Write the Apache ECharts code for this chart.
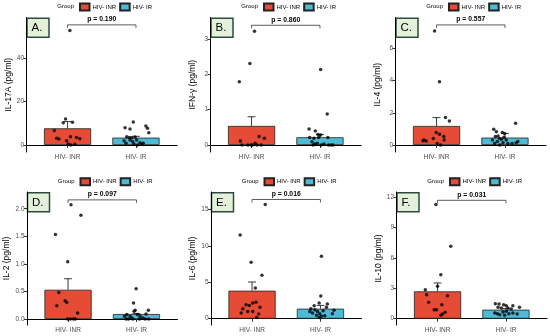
<!DOCTYPE html>
<html>
<head>
<meta charset="utf-8">
<script src="https://cdn.jsdelivr.net/npm/echarts@6/dist/echarts.min.js"></script>
<style>html,body{margin:0;padding:0;background:#fff}#c{width:550px;height:336px}</style>
</head>
<body>
<div id="c"></div>
<script>
// ---------- data ----------
const groups = ['HIV- INR', 'HIV- IR'];
const yTitles = ['IL-17A (pg/ml)', 'IFN-γ (pg/ml)', 'IL-4 (pg/ml)', 'IL-2 (pg/ml)', 'IL-6 (pg/ml)', 'IL-10 (pg/ml)'];
const panelLabels = ['A.', 'B.', 'C.', 'D.', 'E.', 'F.'];
const pLabels = ['p = 0.190', 'p = 0.860', 'p = 0.557', 'p = 0.097', 'p = 0.016', 'p = 0.031'];
const meanINR = [7.7, 0.54, 1.18, 0.53, 3.85, 2.70];
const meanIR = [3.4, 0.22, 0.46, 0.09, 1.38, 0.89];
const upperINR = [10.8, 0.80, 1.70, 0.73, 5.05, 3.53];
const upperIR = [4.0, 0.30, 0.72, 0.10, 1.83, 1.00];
const yTicks = [[0, 20, 40], [0, 1, 2, 3], [0, 2, 4, 6], [0, 0.5, 1, 1.5, 2], [0, 5, 10, 15], [0, 3, 6, 9, 12]];
const yMin = [-3.23, -0.198, -0.434, -0.109, -0.867, -0.623];
const yMax = [58.8, 3.61, 7.91, 2.303, 17.43, 12.52];
const bracketY = [55.4, 3.39, 7.45, 2.16, 16.4, 11.7];

// jittered points: [horizontal jitter offset (category units), value]
const ptsA_INR = [[0.034, 52.8], [-0.029, 12.0], [-0.063, 10.3], [0.072, 10.5], [-0.193, 6.7], [-0.159, 3.1], [-0.126, 2.8], [0.043, 3.8], [0.130, 3.4], [0.179, 2.9], [-0.014, 2.0], [0.010, 0.5], [0.048, 0.0], [0.106, 0.3]];
const ptsA_IR = [[-0.039, 10.6], [-0.159, 8.0], [-0.087, 7.4], [0.145, 8.8], [0.169, 7.7], [0.188, 5.7], [-0.135, 3.8], [-0.097, 3.5], [-0.063, 3.3], [-0.174, 2.0], [-0.145, 0.8], [-0.087, 2.3], [-0.048, 1.5], [-0.029, 0.5], [-0.014, 3.7], [0.010, 2.3], [0.024, 0.0], [0.058, 1.0], [0.082, 0.5], [0.106, 0.8]];
const ptsB_INR = [[0.043, 3.22], [-0.024, 2.31], [-0.179, 1.79], [-0.164, 0.11], [0.111, 0.24], [0.188, 0.19], [-0.140, 0], [-0.053, 0], [-0.005, 0], [0.053, 0.05], [0.082, 0], [0.140, 0], [0.014, 0]];
const ptsB_IR = [[0.010, 2.14], [0.106, 0.88], [-0.159, 0.45], [-0.068, 0.40], [-0.029, 0.30], [0.010, 0.28], [-0.150, 0.21], [-0.087, 0.19], [-0.019, 0.21], [0.116, 0.21], [-0.116, 0.09], [-0.077, 0.03], [-0.039, 0.05], [0.019, 0], [0.058, 0.03], [0.164, 0], [0.193, 0], [-0.101, 0], [0.126, 0]];
const ptsC_INR = [[-0.029, 7.08], [0.043, 3.93], [0.130, 1.70], [0.188, 1.49], [-0.184, 0.31], [-0.150, 0.25], [-0.048, 0.41], [-0.005, 0.77], [0.043, 0.66], [0.106, 0.52], [0.111, 0.31], [0.010, 0.10], [0.058, 0], [-0.198, 0.27]];
const ptsC_IR = [[0.155, 1.35], [-0.164, 0.97], [-0.126, 0.83], [-0.039, 0.77], [-0.005, 0.72], [-0.140, 0.52], [-0.101, 0.56], [-0.077, 0.41], [-0.053, 0.35], [-0.014, 0.48], [0.019, 0.31], [-0.184, 0.31], [-0.111, 0.21], [-0.077, 0], [0.043, 0.10], [0.106, 0.10], [0.164, 0.14], [0.188, 0.21], [-0.029, 0.14], [-0.150, 0.10]];
const ptsD_INR = [[0.043, 2.07], [0.188, 1.88], [-0.184, 1.53], [-0.005, 1.04], [-0.135, 0.48], [-0.164, 0.24], [-0.043, 0.33], [-0.019, 0.30], [0.140, 0.11], [-0.005, 0], [0.034, 0], [0.077, 0], [0.106, 0]];
const ptsD_IR = [[-0.005, 0.55], [-0.043, 0.29], [-0.034, 0.14], [-0.019, 0.16], [0.174, 0.16], [0.140, 0.09], [-0.140, 0.08], [-0.174, 0.05], [-0.092, 0.05], [-0.068, 0.02], [0.014, 0.08], [0.053, 0.05], [0.092, 0.02], [-0.116, 0], [-0.053, 0], [0.043, 0], [0.126, 0], [0.179, 0], [-0.150, 0]];
const ptsE_INR = [[0.193, 15.7], [-0.174, 11.5], [-0.014, 7.75], [0.145, 5.96], [0.048, 4.22], [-0.135, 1.38], [-0.087, 1.93], [-0.039, 1.83], [0.010, 2.16], [0.058, 2.25], [0.116, 1.56], [-0.159, 0.78], [-0.063, 1.0], [0.010, 1.0], [0.097, 0.64], [0.068, 0.18]];
const ptsE_IR = [[0.014, 8.58], [0.005, 3.12], [-0.019, 2.16], [0.101, 2.02], [-0.092, 1.79], [0.087, 1.56], [-0.140, 1.38], [-0.082, 1.24], [0.198, 1.15], [-0.155, 1.0], [-0.116, 0.78], [-0.043, 1.0], [-0.010, 0.69], [0.039, 1.1], [0.174, 0.69], [-0.058, 0.46], [0.014, 0.32], [0.063, 0.41], [-0.019, 0.18]];
const ptsF_INR = [[-0.024, 11.28], [0.193, 7.15], [0.048, 4.35], [-0.179, 2.87], [-0.159, 2.37], [-0.130, 1.62], [0.145, 2.27], [0.0, 3.2], [0.063, 1.38], [-0.048, 0.89], [-0.014, 0.89], [0.072, 0.46], [0.111, 0.63], [0.048, 0.33]];
const ptsF_IR = [[-0.155, 1.48], [-0.101, 1.45], [-0.034, 1.38], [0.005, 1.29], [0.101, 1.29], [0.198, 1.12], [-0.116, 1.12], [-0.068, 1.05], [0.029, 1.05], [0.077, 0.96], [-0.164, 0.56], [-0.126, 0.49], [-0.043, 0.66], [0.005, 0.73], [0.101, 0.56], [0.164, 0.46], [-0.092, 0.40], [-0.019, 0.33], [0.043, 0.49]];

const ptsINR = [ptsA_INR, ptsB_INR, ptsC_INR, ptsD_INR, ptsE_INR, ptsF_INR];
const ptsIR = [ptsA_IR, ptsB_IR, ptsC_IR, ptsD_IR, ptsE_IR, ptsF_IR];

// ---------- layout ----------
const colINR = '#E64B35', colIR = '#4DBBD5';
const FONT = 'Liberation Sans, Arial, sans-serif';
const gLeft = [26.5, 210.5, 395.5, 27, 211, 396.5];
const gTop = [17.5, 17.5, 17.5, 192, 192, 192];
const gH = [134.5, 134.5, 134.5, 133, 133, 133];
const gW = 150.5;
const legTop = [2.5, 2.5, 2.5, 177.2, 177.2, 177.2];

const chart = echarts.init(document.getElementById('c'), null, {renderer: 'canvas'});
const grid = [], xAxis = [], yAxis = [], series = [], legend = [], graphic = [];

for (let i = 0; i < 6; i++) {
  grid.push({left: gLeft[i], top: gTop[i], width: gW, height: gH[i], containLabel: false});
  xAxis.push({
    type: 'value', gridIndex: i, min: 0.4, max: 2.6,
    axisLine: {show: true, lineStyle: {color: '#000', width: 1}},
    axisTick: {show: true, customValues: [1, 2], length: 3, lineStyle: {color: '#333', width: 1}},
    axisLabel: {show: true, customValues: [1, 2], formatter: v => groups[Math.round(v) - 1], fontSize: 6.5, color: '#4D4D4D', fontFamily: FONT, margin: 1.5},
    splitLine: {show: false}
  });
  yAxis.push({
    type: 'value', gridIndex: i, min: yMin[i], max: yMax[i],
    name: yTitles[i], nameLocation: 'middle', nameGap: 13.5,
    nameTextStyle: {fontSize: 8.5, color: '#000', fontFamily: FONT},
    axisLine: {show: true, lineStyle: {color: '#000', width: 1}},
    axisTick: {show: true, customValues: yTicks[i], length: 3, lineStyle: {color: '#333', width: 1}},
    axisLabel: {show: true, customValues: yTicks[i], fontSize: 6.5, color: '#4D4D4D', fontFamily: FONT, margin: 2.5,
      formatter: v => (i === 3 ? Number(v).toFixed(1) : String(v))},
    splitLine: {show: false}
  });
  const unitPx = gW / 2.2;
  series.push({
    type: 'bar', name: groups[0], xAxisIndex: i, yAxisIndex: i, barWidth: 0.69 * unitPx, barGap: '-100%',
    data: [[1, meanINR[i]]], itemStyle: {color: colINR, borderColor: '#222', borderWidth: 0.8}, z: 2
  });
  series.push({
    type: 'bar', name: groups[1], xAxisIndex: i, yAxisIndex: i, barWidth: 0.69 * unitPx, barGap: '-100%',
    data: [[2, meanIR[i]]], itemStyle: {color: colIR, borderColor: '#222', borderWidth: 0.8}, z: 2
  });
  series.push({
    type: 'custom', name: 'se' + i, xAxisIndex: i, yAxisIndex: i, z: 3,
    data: [[1, meanINR[i], upperINR[i]], [2, meanIR[i], upperIR[i]]],
    renderItem: function (params, api) {
      const x = api.value(0);
      const p0 = api.coord([x, api.value(1)]);
      const p1 = api.coord([x, api.value(2)]);
      const hw = api.size([0.115, 0])[0] / 2;
      return {type: 'group', children: [
        {type: 'line', shape: {x1: p0[0], y1: p0[1], x2: p1[0], y2: p1[1]}, style: {stroke: '#222', lineWidth: 0.9}},
        {type: 'line', shape: {x1: p1[0] - hw, y1: p1[1], x2: p1[0] + hw, y2: p1[1]}, style: {stroke: '#222', lineWidth: 0.9}}
      ]};
    }
  });
  series.push({
    type: 'scatter', name: 'pts-INR' + i, xAxisIndex: i, yAxisIndex: i, z: 4, symbolSize: 3.5,
    data: ptsINR[i].map(p => [1 + p[0], p[1]]), itemStyle: {color: '#000'}
  });
  series.push({
    type: 'scatter', name: 'pts-IR' + i, xAxisIndex: i, yAxisIndex: i, z: 4, symbolSize: 3.5,
    data: ptsIR[i].map(p => [2 + p[0], p[1]]), itemStyle: {color: '#000'}
  });
  series.push({
    type: 'custom', name: 'bracket' + i, xAxisIndex: i, yAxisIndex: i, z: 5,
    data: [[1, 2, bracketY[i]]],
    renderItem: function (params, api) {
      const a = api.coord([api.value(0), api.value(2)]);
      const b = api.coord([api.value(1), api.value(2)]);
      const t = 3;
      return {type: 'group', children: [
        {type: 'polyline', shape: {points: [[a[0], a[1] + t], [a[0], a[1]], [b[0], b[1]], [b[0], b[1] + t]]}, style: {stroke: '#333', lineWidth: 0.8, fill: null}},
        {type: 'text', style: {x: (a[0] + b[0]) / 2, y: a[1] - 2, text: pLabels[i], textAlign: 'center', textVerticalAlign: 'bottom', fontSize: 6.8, fontWeight: 'bold', fill: '#000', fontFamily: FONT}}
      ]};
    }
  });
  legend.push({
    data: groups, left: gLeft[i] + 52.5, top: legTop[i], orient: 'horizontal', icon: 'rect', padding: 0,
    itemWidth: 9.5, itemHeight: 7, itemGap: 3, selectedMode: false,
    textStyle: {fontSize: 6, color: '#000', fontFamily: FONT, padding: [0, 0, 0, -2]}
  });
  graphic.push({
    type: 'text', x: gLeft[i] + 47.5, y: legTop[i] + 3.7,
    style: {text: 'Group', textAlign: 'right', textVerticalAlign: 'middle', fontSize: 6, fill: '#000', fontFamily: FONT}
  });
  graphic.push({
    type: 'group', x: gLeft[i] + 0.5, y: gTop[i] + 0.8, children: [
      {type: 'rect', shape: {x: 0, y: 0, width: 22, height: 19}, style: {fill: '#E3F1DA', stroke: '#2E4A3D', lineWidth: 1.5}},
      {type: 'text', x: 4.5, y: 10, style: {text: panelLabels[i], fontSize: 11.5, fill: '#000', textVerticalAlign: 'middle', fontFamily: FONT}}
    ]
  });
}

chart.setOption({animation: false, backgroundColor: '#fff', grid, xAxis, yAxis, series, legend, graphic});
</script>
</body>
</html>
